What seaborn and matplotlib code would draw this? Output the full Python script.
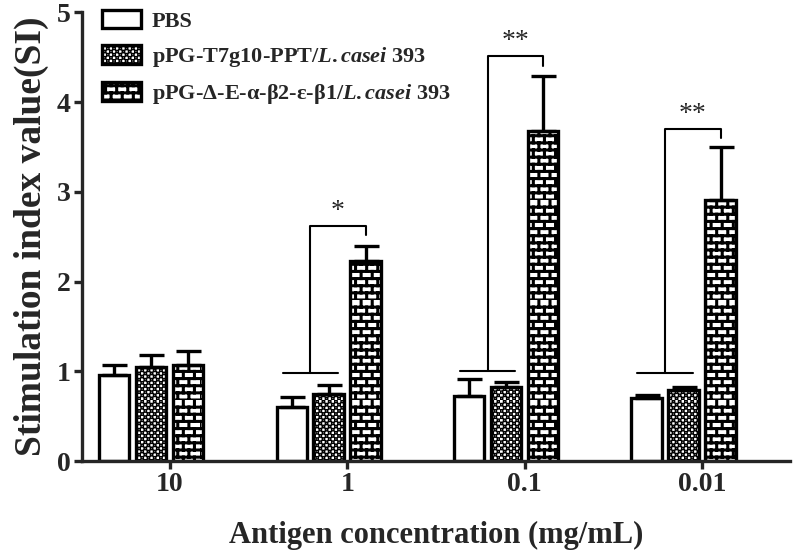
import warnings
warnings.filterwarnings("ignore")
import matplotlib
matplotlib.use("Agg")
import matplotlib.pyplot as plt
import matplotlib.hatch as mhatch
from matplotlib.path import Path
from matplotlib.patches import Patch
import seaborn as sns
import pandas as pd
import numpy as np

concentrations = ["10", "1", "0.1", "0.01"]
groups = ["PBS", "pPG-T7g10-PPT/L.casei 393", "pPG-Δ-E-α-β2-ε-β1/L.casei 393"]
legend_labels = ["PBS", r"pPG-T7g10-PPT/$\mathit{L.casei}$ 393",
                 r"pPG-Δ-E-α-β2-ε-β1/$\mathit{L.casei}$ 393"]
pbs_mean = [0.96, 0.60, 0.73, 0.70]
pbs_err = [0.11, 0.11, 0.18, 0.04]
t7_mean = [1.05, 0.75, 0.83, 0.79]
t7_err = [0.13, 0.10, 0.05, 0.04]
del_mean = [1.07, 2.23, 3.68, 2.91]
del_err = [0.16, 0.17, 0.61, 0.59]
sig_labels = ["", "*", "**", "**"]
bracket_low = [0.0, 0.98, 1.00, 0.98]
bracket_high = [0.0, 2.62, 4.51, 3.70]
bracket_drop = [0.0, 2.52, 4.40, 3.60]


# ---- custom hatch patterns: brick ('b') and checkerboard ('c') ----
class BrickHatch(mhatch.HatchPatternBase):
    def __init__(self, hatch, density):
        k = hatch.count('b')
        self.nrows = 14 * k
        self.ncols = 9 * k
        self.num_vertices = (self.nrows * 2 + self.nrows * self.ncols * 2) if k else 0

    def set_vertices_and_codes(self, vertices, codes):
        i = 0
        for r in range(self.nrows):
            y = r / self.nrows
            vertices[i] = (0.0, y); codes[i] = Path.MOVETO; i += 1
            vertices[i] = (1.0, y); codes[i] = Path.LINETO; i += 1
        for r in range(self.nrows):
            y0 = r / self.nrows
            y1 = (r + 1) / self.nrows
            off = 0.5 * (r % 2)
            for c in range(self.ncols):
                x = (c + off) / self.ncols
                vertices[i] = (x, y0); codes[i] = Path.MOVETO; i += 1
                vertices[i] = (x, y1); codes[i] = Path.LINETO; i += 1


class CheckerHatch(mhatch.HatchPatternBase):
    filled = True

    def __init__(self, hatch, density):
        k = hatch.count('c')
        self.n = 32 * k
        cells = [(a, b) for a in range(self.n) for b in range(self.n) if (a + b) % 2 == 0]
        self.cells = cells
        self.num_vertices = len(cells) * 5 if k else 0

    def set_vertices_and_codes(self, vertices, codes):
        s = 1.0 / self.n
        h = s * 0.12
        i = 0
        for a, b in self.cells:
            x, y = (a + 0.5) * s, (b + 0.5) * s
            for px, py, cd in [(x - h, y - h, Path.MOVETO), (x + h, y - h, Path.LINETO),
                               (x + h, y + h, Path.LINETO), (x - h, y + h, Path.LINETO),
                               (x - h, y - h, Path.CLOSEPOLY)]:
                vertices[i] = (px, py); codes[i] = cd; i += 1


mhatch._hatch_types.append(BrickHatch)
mhatch._hatch_types.append(CheckerHatch)

sns.set_style("ticks")
plt.rcParams["font.family"] = ["Liberation Serif", "DejaVu Serif"]
plt.rcParams["font.weight"] = "bold"
plt.rcParams["mathtext.fontset"] = "custom"
plt.rcParams["mathtext.it"] = "Liberation Serif:italic:bold"
plt.rcParams["mathtext.rm"] = "Liberation Serif:bold"
plt.rcParams["hatch.linewidth"] = 2.2

means = [pbs_mean, t7_mean, del_mean]
errs = [pbs_err, t7_err, del_err]
rows = []
for g, m, e in zip(groups, means, errs):
    for c, mv, ev in zip(concentrations, m, e):
        rows.append({"conc": c, "group": g, "SI": mv, "err": ev})
df = pd.DataFrame(rows)

fig = plt.figure(figsize=(8, 5.55), dpi=100)
ax = fig.add_axes([0.1025, 0.169, 0.885, 0.809])

sns.barplot(data=df, x="conc", y="SI", hue="group", order=concentrations,
            hue_order=groups, width=0.625, gap=0.18, errorbar=None,
            edgecolor="black", linewidth=2.4, ax=ax, legend=False)

facecolors = ["white", "white", "white"]
hatches = [None, "c", "b"]
patches = [p for p in ax.patches]
n = len(concentrations)
centers = {}
for gi in range(3):
    for ci in range(n):
        p = patches[gi * n + ci]
        p.set_facecolor(facecolors[gi])
        p.set_edgecolor("black")
        if hatches[gi]:
            p.set_hatch(hatches[gi])
        cx = p.get_x() + p.get_width() / 2
        centers[(gi, ci)] = (cx, p.get_width())
        ax.errorbar([cx], [means[gi][ci]], yerr=[[0], [errs[gi][ci]]],
                    fmt="none", ecolor="black", elinewidth=2.4,
                    capsize=9, capthick=2.4, zorder=1)

# significance brackets
for ci in range(n):
    if not sig_labels[ci]:
        continue
    x0 = centers[(0, ci)][0] - centers[(0, ci)][1] * 0.3
    x1 = centers[(1, ci)][0] + centers[(1, ci)][1] * 0.3
    xm = (x0 + x1) / 2
    x3 = centers[(2, ci)][0]
    ax.plot([x0, x1], [bracket_low[ci]] * 2, color="black", lw=1.5)
    ax.plot([xm, xm, x3, x3],
            [bracket_low[ci], bracket_high[ci], bracket_high[ci], bracket_drop[ci]],
            color="black", lw=1.5)
    ax.text((xm + x3) / 2, bracket_high[ci] + 0.02, sig_labels[ci],
            ha="center", va="bottom", fontsize=20, fontweight="normal")

ax.set_ylim(0, 5)
ax.set_yticks([0, 1, 2, 3, 4, 5])
ax.set_xlim(-0.39, 3.6)
ax.set_xticks(np.arange(n) + 0.105)
ax.set_xticklabels(concentrations)
sns.despine(ax=ax)
for s in ["left", "bottom"]:
    ax.spines[s].set_linewidth(2.4)
ax.tick_params(axis="both", width=2.4, length=6, labelsize=20, direction="out", pad=2)
for lab in ax.get_xticklabels() + ax.get_yticklabels():
    lab.set_fontweight("bold")
ax.set_ylabel("Stimulation index value(SI)", fontsize=27, fontweight="bold", labelpad=6)
ax.set_xlabel("Antigen concentration (mg/mL)", fontsize=22, fontweight="bold", labelpad=17)

handles = [Patch(facecolor=facecolors[i], edgecolor="black", hatch=hatches[i],
                 linewidth=2.4) for i in range(3)]
leg = ax.legend(handles, legend_labels, loc="upper left", bbox_to_anchor=(0.0, 1.05),
                frameon=False, fontsize=16, handlelength=1.75, handleheight=0.9,
                labelspacing=0.6, handletextpad=0.5)
for t in leg.get_texts():
    t.set_fontweight("bold")

fig.savefig("out.png", dpi=100)
